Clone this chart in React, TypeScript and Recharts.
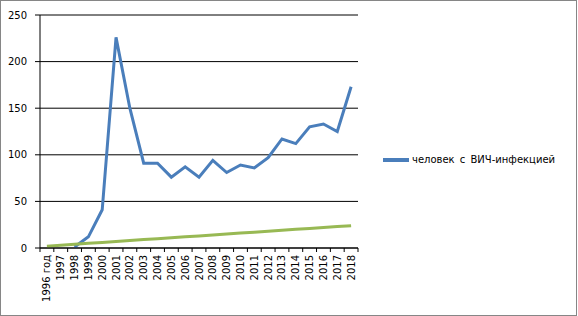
import { LineChart, Line, XAxis, YAxis, CartesianGrid, Legend } from "recharts";

const years = [
  "1996 год", "1997", "1998", "1999", "2000", "2001", "2002", "2003",
  "2004", "2005", "2006", "2007", "2008", "2009", "2010", "2011",
  "2012", "2013", "2014", "2015", "2016", "2017", "2018",
];
const hivInfected = [
  null, null, 1, 12, 41, 226, 150, 91, 91, 76, 87, 76, 94, 81, 89, 86, 97,
  117, 112, 130, 133, 125, 173,
];
const trend = [
  2, 3, 4, 5, 6, 7, 8, 9, 10, 11, 12, 13, 14, 15, 16, 17, 18, 19, 20, 21, 22,
  23, 24,
];
const yTicks = [0, 50, 100, 150, 200, 250];

const data = years.map((year, i) => ({
  year,
  hiv: hivInfected[i],
  trend: trend[i],
}));

const FONT = "'DejaVu Sans', Verdana, sans-serif";
const TICK_MARGIN = 2;

// year label plus an Excel-style tick mark between categories
const YearTick = (props: any) => {
  const { x, y, payload, index, visibleTicksCount, width } = props;
  const step = width / visibleTicksCount;
  const axisY = y - TICK_MARGIN;
  const marks = [x - step / 2];
  if (index === visibleTicksCount - 1) marks.push(x + step / 2);
  return (
    <g>
      {marks.map((mx) => (
        <line key={mx} x1={mx} x2={mx} y1={axisY} y2={axisY + 4} stroke="#000" />
      ))}
      <g transform={`translate(${x},${y + 5})`}>
        <text
          transform="rotate(-90)"
          textAnchor="end"
          dy="0.35em"
          fontSize={10}
          fontFamily={FONT}
          fill="#000"
        >
          {payload.value}
        </text>
      </g>
    </g>
  );
};

const LegendContent = ({ payload }: any) => (
  <div>
    {(payload || [])
      .filter((entry: any) => entry.type !== "none")
      .map((entry: any) => (
        <div
          key={entry.value}
          style={{
            display: "flex",
            alignItems: "center",
            fontFamily: FONT,
            fontSize: 10,
            color: "#000",
            whiteSpace: "pre",
            wordSpacing: 2,
          }}
        >
          <span
            style={{
              display: "inline-block",
              width: 26,
              height: 4,
              background: entry.color,
              marginRight: 3,
            }}
          />
          {entry.value}
        </div>
      ))}
  </div>
);

const App = () => {
  return (
    <div
      style={{
        position: "absolute",
        left: 0,
        top: 0,
        width: 577,
        height: 316,
        border: "1px solid #868686",
        boxSizing: "border-box",
        background: "#fff",
      }}
    >
      <LineChart
        width={575}
        height={314}
        data={data}
        margin={{ top: 14, right: 218, bottom: 0, left: 0 }}
      >
        <CartesianGrid vertical={false} stroke="#000" />
        <XAxis
          dataKey="year"
          type="category"
          interval={0}
          padding={{ left: 6.9, right: 6.9 }}
          stroke="#000"
          tickLine={false}
          tickSize={0}
          tickMargin={TICK_MARGIN}
          height={67}
          tick={<YearTick />}
        />
        <YAxis
          domain={[0, 250]}
          ticks={yTicks}
          width={39}
          tickSize={5}
          tickMargin={8}
          stroke="#000"
          tick={{ fill: "#000", fontSize: 10, fontFamily: FONT }}
        />
        <Legend
          verticalAlign="middle"
          layout="horizontal"
          content={<LegendContent />}
          wrapperStyle={{ left: 382, top: 153, width: 190 }}
        />
        <Line
          type="linear"
          dataKey="hiv"
          name="человек с ВИЧ-инфекцией"
          stroke="#4A7EBB"
          strokeWidth={3}
          dot={false}
          isAnimationActive={false}
        />
        <Line
          type="linear"
          dataKey="trend"
          stroke="#98B954"
          strokeWidth={3}
          dot={false}
          legendType="none"
          isAnimationActive={false}
        />
      </LineChart>
    </div>
  );
};

export default App;
